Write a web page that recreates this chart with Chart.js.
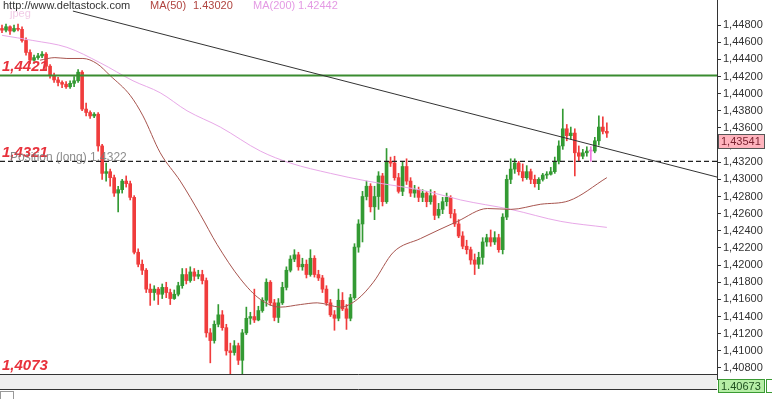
<!DOCTYPE html>
<html>
<head>
<meta charset="utf-8">
<script src="https://cdn.jsdelivr.net/npm/chart.js@4.4.0/dist/chart.umd.min.js"></script>
<style>
html,body{margin:0;padding:0;background:#fff;overflow:hidden}
#wrap{width:772px;height:399px}
</style>
</head>
<body>
<div id="wrap"><canvas id="c" width="772" height="399"></canvas></div>
<script>
// candles (one per slot)
const openP = [1.4476,1.4474,1.4478,1.4473,1.4476,1.4475,1.4462,1.4448,1.4439,1.4442,1.4444,1.4446,1.4432,1.4421,1.4416,1.4413,1.4411,1.4408,1.4412,1.4415,
1.4425,1.4382,1.4378,1.4374,1.4376,1.4339,1.4307,1.4309,1.4302,1.4284,1.4288,1.4298,1.4295,1.4279,1.4215,1.4201,1.4194,1.4172,1.4168,1.4172,
1.4166,1.4174,1.4168,1.4161,1.4166,1.4176,1.4189,1.4182,1.4192,1.4187,1.4189,1.4182,1.4121,1.4112,1.4131,1.4142,1.4127,1.4100,1.4098,1.4106,
1.4089,1.4121,1.4138,1.4140,1.4136,1.4147,1.4159,1.4180,1.4156,1.4139,1.4156,1.4174,1.4194,1.4207,1.4212,1.4198,1.4201,1.4189,1.4208,1.4189,
1.4185,1.4172,1.4156,1.4142,1.4138,1.4159,1.4149,1.4138,1.4162,1.4221,1.4248,1.4280,1.4292,1.4268,1.4280,1.4304,1.4274,1.4321,1.4319,1.4302,
1.4286,1.4315,1.4298,1.4284,1.4288,1.4279,1.4284,1.4274,1.4281,1.4258,1.4265,1.4274,1.4279,1.4260,1.4248,1.4234,1.4222,1.4218,1.4206,1.4201,
1.4209,1.4227,1.4232,1.4227,1.4232,1.4218,1.4256,1.4300,1.4312,1.4319,1.4309,1.4302,1.4309,1.4300,1.4295,1.4300,1.4305,1.4306,1.4309,1.4321,
1.4339,1.4359,1.4351,1.4354,1.4331,1.4327,1.4331,1.4333,1.4333,1.4345,1.4361,1.4356];
const highP = [1.4480,1.4481,1.4479,1.4480,1.4481,1.4478,1.4465,1.4451,1.4445,1.4447,1.4449,1.4448,1.4434,1.4424,1.4419,1.4415,1.4414,1.4415,1.4420,1.4428,
1.4427,1.4389,1.4380,1.4378,1.4378,1.4341,1.4319,1.4312,1.4305,1.4292,1.4300,1.4304,1.4298,1.4281,1.4219,1.4206,1.4196,1.4178,1.4176,1.4174,
1.4178,1.4180,1.4172,1.4171,1.4180,1.4196,1.4196,1.4198,1.4196,1.4194,1.4194,1.4185,1.4126,1.4135,1.4154,1.4147,1.4131,1.4109,1.4112,1.4109,
1.4125,1.4151,1.4145,1.4172,1.4152,1.4162,1.4184,1.4182,1.4160,1.4161,1.4180,1.4198,1.4211,1.4218,1.4215,1.4208,1.4206,1.4218,1.4211,1.4194,
1.4188,1.4176,1.4160,1.4147,1.4172,1.4168,1.4154,1.4166,1.4225,1.4253,1.4286,1.4298,1.4295,1.4292,1.4309,1.4307,1.4336,1.4326,1.4327,1.4307,
1.4321,1.4324,1.4302,1.4293,1.4291,1.4288,1.4286,1.4288,1.4286,1.4272,1.4279,1.4284,1.4281,1.4265,1.4253,1.4239,1.4229,1.4221,1.4213,1.4215,
1.4232,1.4236,1.4241,1.4239,1.4236,1.4260,1.4305,1.4324,1.4324,1.4321,1.4318,1.4316,1.4312,1.4305,1.4302,1.4307,1.4309,1.4314,1.4326,1.4345,
1.4382,1.4364,1.4361,1.4359,1.4339,1.4335,1.4338,1.4338,1.4349,1.4374,1.4373,1.4366];
const lowP = [1.4471,1.4472,1.4469,1.4472,1.4473,1.4460,1.4445,1.4435,1.4438,1.4440,1.4442,1.4427,1.4418,1.4413,1.4409,1.4407,1.4406,1.4406,1.4408,1.4413,
1.4380,1.4374,1.4371,1.4372,1.4333,1.4300,1.4298,1.4292,1.4280,1.4262,1.4284,1.4291,1.4276,1.4213,1.4198,1.4189,1.4168,1.4153,1.4159,1.4154,
1.4161,1.4162,1.4154,1.4160,1.4164,1.4173,1.4178,1.4180,1.4182,1.4184,1.4178,1.4116,1.4086,1.4109,1.4128,1.4124,1.4095,1.4071,1.4095,1.4084,
1.4071,1.4119,1.4131,1.4133,1.4135,1.4145,1.4152,1.4153,1.4135,1.4133,1.4154,1.4171,1.4192,1.4204,1.4194,1.4194,1.4185,1.4187,1.4186,1.4182,
1.4168,1.4153,1.4140,1.4124,1.4135,1.4147,1.4125,1.4135,1.4160,1.4215,1.4227,1.4276,1.4262,1.4253,1.4265,1.4269,1.4272,1.4315,1.4299,1.4284,
1.4281,1.4294,1.4280,1.4279,1.4274,1.4274,1.4268,1.4271,1.4253,1.4255,1.4260,1.4269,1.4255,1.4245,1.4232,1.4219,1.4213,1.4201,1.4189,1.4196,
1.4201,1.4222,1.4222,1.4224,1.4215,1.4213,1.4253,1.4295,1.4307,1.4305,1.4298,1.4300,1.4295,1.4291,1.4288,1.4298,1.4301,1.4305,1.4307,1.4318,
1.4335,1.4345,1.4347,1.4304,1.4321,1.4324,1.4327,1.4321,1.4331,1.4340,1.4353,1.4349];
const closeP = [1.4474,1.4478,1.4473,1.4476,1.4475,1.4462,1.4448,1.4439,1.4442,1.4444,1.4446,1.4432,1.4421,1.4416,1.4413,1.4411,1.4408,1.4412,1.4415,1.4425,
1.4382,1.4378,1.4374,1.4376,1.4339,1.4307,1.4309,1.4302,1.4284,1.4288,1.4298,1.4295,1.4279,1.4215,1.4201,1.4194,1.4172,1.4168,1.4172,1.4166,
1.4174,1.4168,1.4161,1.4166,1.4176,1.4189,1.4182,1.4192,1.4187,1.4189,1.4182,1.4121,1.4112,1.4131,1.4142,1.4127,1.4100,1.4098,1.4106,1.4089,
1.4121,1.4138,1.4140,1.4136,1.4147,1.4159,1.4180,1.4156,1.4139,1.4156,1.4174,1.4194,1.4207,1.4212,1.4198,1.4201,1.4189,1.4208,1.4189,1.4185,
1.4172,1.4156,1.4142,1.4138,1.4159,1.4149,1.4138,1.4162,1.4221,1.4248,1.4280,1.4292,1.4268,1.4280,1.4304,1.4274,1.4321,1.4319,1.4302,1.4286,
1.4315,1.4298,1.4284,1.4288,1.4279,1.4284,1.4274,1.4281,1.4258,1.4265,1.4274,1.4279,1.4260,1.4248,1.4234,1.4222,1.4218,1.4206,1.4201,1.4209,
1.4227,1.4232,1.4227,1.4232,1.4218,1.4256,1.4300,1.4312,1.4319,1.4309,1.4302,1.4309,1.4300,1.4295,1.4300,1.4305,1.4306,1.4309,1.4321,1.4339,
1.4359,1.4351,1.4354,1.4331,1.4327,1.4331,1.4333,1.4333,1.4345,1.4361,1.4356,1.4354];

// moving averages (slot index, value)
const ma50Idx = [9.5,13.2,16.2,20.2,23.7,27,32,35.2,39.5,44.5,49.5,53.7,59.5,64.5,69.5,74.5,78.7,84.5,88.7,92.7,97.7,104.5,113.7,121.2,127,134.5,141.5,151];
const ma50Val = [1.4439,1.4442,1.4441,1.4441,1.4435,1.4421,1.4398,1.4374,1.4331,1.4298,1.4259,1.4224,1.4184,1.4160,1.4151,1.4154,1.4156,1.4151,1.4160,1.4180,1.4215,1.4231,1.4251,1.4266,1.4265,1.4271,1.4275,1.4302];
const ma200Idx = [0,7.7,16.2,24.5,32.7,39.5,46.2,54.5,64.5,72,82,91.2,106.2,114.5,127,139.5,151];
const ma200Val = [1.4468,1.4462,1.4454,1.4436,1.4415,1.4401,1.4380,1.4361,1.4333,1.4319,1.4307,1.4298,1.4286,1.4276,1.4265,1.4251,1.4244];

const yTicks = [1.408,1.410,1.412,1.414,1.416,1.418,1.420,1.422,1.424,1.426,1.428,1.430,1.432,1.434,1.436,1.438,1.440,1.442,1.444,1.446,1.448];
const levelHigh = 1.4421, levelPos = 1.4321, levelLow = 1.4073;
const trendIdx = [17.7, 178.5];
const trendVal = [1.44963, 1.43027];
const lastPrice = 1.43541, ma50Last = 1.43020, ma200Last = 1.42442, lowBox = 1.40673;
const slots = 179;

const GREEN = '#339a33', RED = '#f03c3c', DOJI = '#f07ce0';
function candleColor(i) {
  if (closeP[i] > openP[i]) return GREEN;
  if (closeP[i] < openP[i]) return RED;
  return DOJI;
}
const colors = openP.map((o, i) => candleColor(i));

const fmt = v => v.toFixed(5).replace('.', ',');
const FONT = "'Liberation Sans', Arial, sans-serif";

const decorations = {
  id: 'decorations',
  beforeDraw(chart) {
    const ctx = chart.ctx;
    ctx.save();
    ctx.fillStyle = '#fff';
    ctx.fillRect(0, 0, chart.width, chart.height);
    ctx.restore();
  },
  afterDraw(chart) {
    const ctx = chart.ctx;
    const a = chart.chartArea;
    const y = chart.scales.y;
    ctx.save();
    // bottom strip
    ctx.fillStyle = '#efefef';
    ctx.fillRect(0, a.bottom, a.right, 15);
    ctx.strokeStyle = '#333';
    ctx.lineWidth = 1;
    ctx.beginPath();
    ctx.moveTo(0, a.bottom + 0.5); ctx.lineTo(a.right, a.bottom + 0.5);
    ctx.moveTo(0, a.bottom + 15.5); ctx.lineTo(a.right, a.bottom + 15.5);
    ctx.moveTo(a.right + 0.5, a.bottom); ctx.lineTo(a.right + 0.5, a.bottom + 6);
    ctx.stroke();
    ctx.strokeStyle = '#999';
    ctx.strokeRect(0.5, a.bottom + 17.5, 13, 10);

    // top texts
    ctx.textBaseline = 'alphabetic';
    ctx.font = '11px ' + FONT;
    ctx.fillStyle = 'rgba(230,160,210,0.55)';
    ctx.fillText('jpeg', 10, 17);
    ctx.fillStyle = '#333';
    ctx.fillText('http://www.deltastock.com', 3, 9);
    ctx.fillStyle = '#b0443f';
    ctx.fillText('MA(50)', 150, 9);
    ctx.fillText(ma50Last.toFixed(5), 193, 9);
    ctx.fillStyle = '#e49ae4';
    ctx.fillText('MA(200)', 253, 9);
    ctx.fillText(ma200Last.toFixed(5), 298, 9);

    // level labels
    ctx.font = 'italic bold 15px ' + FONT;
    ctx.fillStyle = '#e8323c';
    ctx.fillText(levelHigh.toFixed(4).replace('.', ','), 2, y.getPixelForValue(levelHigh) - 5);
    ctx.fillText(levelPos.toFixed(4).replace('.', ','), 2, y.getPixelForValue(levelPos) - 4);
    ctx.fillText(levelLow.toFixed(4).replace('.', ','), 2, a.bottom - 4);
    ctx.font = '12px ' + FONT;
    ctx.fillStyle = 'rgba(120,120,120,0.85)';
    ctx.fillText('Position (long) 1.4322', 10, y.getPixelForValue(levelPos));

    // price boxes on the axis
    ctx.font = '11px ' + FONT;
    const by = Math.round(y.getPixelForValue(lastPrice)) + 1;
    ctx.fillStyle = '#ffb4be';
    ctx.fillRect(718, by, 47, 15);
    ctx.strokeStyle = '#555';
    ctx.strokeRect(718.5, by + 0.5, 46, 14);
    ctx.fillStyle = '#7a2230';
    ctx.textBaseline = 'middle';
    ctx.fillText(fmt(lastPrice), 721, by + 8);

    ctx.fillStyle = '#b6eea6';
    ctx.fillRect(718, a.bottom + 5, 47, 14);
    ctx.strokeStyle = '#3a9a33';
    ctx.strokeRect(718.5, a.bottom + 5.5, 46, 13);
    ctx.strokeRect(766.5, a.bottom + 5.5, 10, 13);
    ctx.fillStyle = '#1f4f1f';
    ctx.fillText(lowBox.toFixed(5), 721, a.bottom + 12.5);
    ctx.restore();
  }
};

const pts = (xs, ys) => xs.map((x, i) => ({ x: x, y: ys[i] }));
const lineStyle = { type: 'line', pointRadius: 0, fill: false, borderWidth: 1 };

new Chart(document.getElementById('c'), {
  type: 'bar',
  data: {
    datasets: [
      Object.assign({}, lineStyle, { label: 'trend', data: pts(trendIdx, trendVal), borderColor: '#333', order: 0 }),
      Object.assign({}, lineStyle, { label: 'position', data: pts([-0.5, slots - 0.5], [levelPos, levelPos]), borderColor: '#222', borderDash: [5, 3], borderWidth: 1.2, order: 0 }),
      Object.assign({}, lineStyle, { label: 'level', data: pts([-0.5, slots - 0.5], [levelHigh, levelHigh]), borderColor: '#3a8c30', borderWidth: 2, order: 0 }),
      Object.assign({}, lineStyle, { label: 'MA(50)', data: pts(ma50Idx, ma50Val), borderColor: '#a8554f', cubicInterpolationMode: 'monotone', order: 1 }),
      Object.assign({}, lineStyle, { label: 'MA(200)', data: pts(ma200Idx, ma200Val), borderColor: '#e8a8e8', cubicInterpolationMode: 'monotone', order: 1 }),
      {
        type: 'bar', label: 'body',
        data: openP.map((o, i) => ({ x: i, y: [o, closeP[i]] })),
        backgroundColor: colors, barThickness: 3, minBarLength: 1, grouped: false, order: 2
      },
      {
        type: 'bar', label: 'wick',
        data: openP.map((o, i) => ({ x: i, y: [lowP[i], highP[i]] })),
        backgroundColor: colors, barThickness: 1, grouped: false, order: 3
      }
    ]
  },
  options: {
    responsive: false,
    animation: false,
    devicePixelRatio: 1,
    layout: { padding: { left: 0, right: 0, top: 0, bottom: 25 } },
    plugins: { legend: { display: false }, tooltip: { enabled: false } },
    scales: {
      x: { type: 'linear', min: -0.5, max: slots - 0.5, offset: false, display: false },
      y: {
        position: 'right',
        min: levelLow, max: 1.45092,
        beginAtZero: false,
        afterBuildTicks: s => { s.ticks = yTicks.map(v => ({ value: v })); },
        afterFit: s => { s.width = 55; s.paddingTop = 0; s.paddingBottom = 0; },
        ticks: { callback: v => fmt(v), font: { family: FONT, size: 11 }, color: '#333', padding: 2 },
        grid: { drawOnChartArea: false, drawTicks: true, tickLength: 4, color: '#333' },
        border: { display: true, color: '#333', width: 1 }
      }
    }
  },
  plugins: [decorations]
});
</script>
</body>
</html>
